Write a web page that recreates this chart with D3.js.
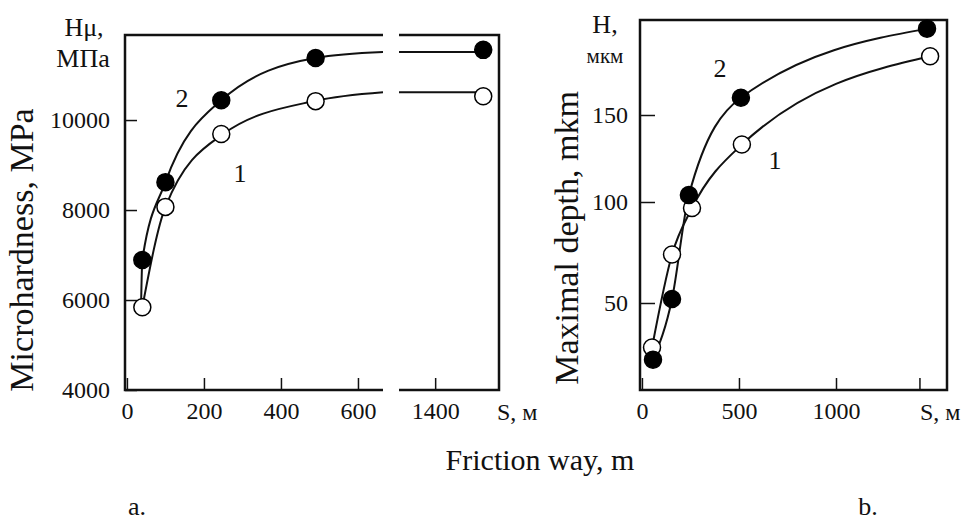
<!DOCTYPE html>
<html>
<head>
<meta charset="utf-8">
<script src="https://cdn.jsdelivr.net/npm/d3@7"></script>
<style>
  body { margin: 0; background: #fff; }
  text { font-family: "Liberation Serif", "DejaVu Serif", serif; fill: #111; }
</style>
</head>
<body>
<svg id="chart"></svg>
<script>
// panel a: microhardness vs friction way
const distA = [40, 100, 245, 490];
const hard2 = [6890, 8620, 10440, 11380];
const hard1 = [5840, 8070, 9690, 10420];
const distALong = 1525;
const hard2Long = 11560;
const hard1Long = 10530;
// smooth fitted curves
const fitA2 = [[37, 6000], [40, 6890], [100, 8620], [245, 10440], [490, 11380], [665, 11510]];
const fitA1 = [[40, 5840], [100, 8070], [250, 9690], [490, 10430], [665, 10620]];
const fitA2Flat = 11510;
const fitA1Flat = 10620;
const ticksAy = [4000, 6000, 8000, 10000];
const ticksAx = [0, 200, 400, 600];
const ticksAx2 = [1400];

// panel b: maximal depth vs friction way
const distB2 = [57, 155, 242, 510, 1469];
const depth2 = [22, 52, 104, 160, 200];
const distB1 = [52, 155, 258, 515, 1485];
const depth1 = [28, 74, 97, 133, 184];
const ticksBy = [50, 100, 150];
const ticksBx = [0, 500, 1000, 1430];
const tickLabelsBx = ["0", "500", "1000", ""];

const width = 965;
const height = 530;
const serif = '"Liberation Serif", "DejaVu Serif", serif';
const svg = d3.select("#chart").attr("width", width).attr("height", height);
svg.append("rect").attr("width", width).attr("height", height).attr("fill", "#fff");

const frameW = 2.5;

// ---- panel a ----
const xA1 = d3.scaleLinear().domain([-5, 665]).range([125, 383]);
const xA2 = d3.scaleLinear().domain([1306, 1566]).range([399, 499]);
const yA = d3.scaleLinear().domain([4000, 11890]).range([390, 35]);

const gA = svg.append("g");

function styleAxis(g) {
  g.attr("font-family", serif).attr("font-size", 24);
  g.select(".domain").remove();
  g.selectAll(".tick line").attr("stroke", "#111").attr("stroke-width", 1.5);
  g.selectAll(".tick text").attr("fill", "#111");
}

gA.append("g").attr("transform", "translate(125,0)")
  .call(d3.axisLeft(yA).tickValues(ticksAy).tickFormat(d3.format("d"))
    .tickSizeInner(-12).tickSizeOuter(0).tickPadding(15))
  .call(styleAxis);
gA.append("g").attr("transform", "translate(0,390)")
  .call(d3.axisBottom(xA1).tickValues(ticksAx).tickFormat(d3.format("d"))
    .tickSizeInner(-12).tickSizeOuter(0).tickPadding(12))
  .call(styleAxis);
gA.append("g").attr("transform", "translate(0,390)")
  .call(d3.axisBottom(xA2).tickValues(ticksAx2).tickFormat(d3.format("d"))
    .tickSizeInner(-12).tickSizeOuter(0).tickPadding(12))
  .call(styleAxis);

// frame with break
const frame = gA.append("g").attr("fill", "none").attr("stroke", "#111").attr("stroke-width", frameW);
frame.append("path").attr("d", `M${xA1.range()[1]},${yA.range()[1]}H${xA1.range()[0]}V${yA.range()[0]}H${xA1.range()[1]}`);
frame.append("path").attr("d", `M${xA2.range()[0]},${yA.range()[1]}H${xA2.range()[1]}V${yA.range()[0]}H${xA2.range()[0]}`);

const lineA = d3.line().x(d => xA1(d[0])).y(d => yA(d[1])).curve(d3.curveMonotoneX);
[fitA1, fitA2].forEach(f => {
  gA.append("path").attr("d", lineA(f)).attr("fill", "none").attr("stroke", "#111").attr("stroke-width", 2);
});
[[fitA1Flat, distALong], [fitA2Flat, distALong]].forEach(([v, x]) => {
  gA.append("line")
    .attr("x1", xA2.range()[0]).attr("x2", xA2(x))
    .attr("y1", yA(v)).attr("y2", yA(v))
    .attr("stroke", "#111").attr("stroke-width", 2);
});

function dots(g, xs, ys, xScale, yScale, filled) {
  g.append("g").selectAll("circle")
    .data(xs.map((x, i) => [x, ys[i]]))
    .enter().append("circle")
      .attr("cx", d => xScale(d[0]))
      .attr("cy", d => yScale(d[1]))
      .attr("r", 8.5)
      .attr("fill", filled ? "#000" : "#fff")
      .attr("stroke", "#000")
      .attr("stroke-width", 1.5);
}
dots(gA, distA, hard1, xA1, yA, false);
dots(gA, distA, hard2, xA1, yA, true);
dots(gA, [distALong], [hard1Long], xA2, yA, false);
dots(gA, [distALong], [hard2Long], xA2, yA, true);

gA.append("text").attr("x", 182).attr("y", 107).attr("text-anchor", "middle").attr("font-size", 26).text("2");
gA.append("text").attr("x", 240).attr("y", 182).attr("text-anchor", "middle").attr("font-size", 26).text("1");
gA.append("text").attr("x", 84).attr("y", 36).attr("text-anchor", "middle").attr("font-size", 26).text("Hμ,");
gA.append("text").attr("x", 83).attr("y", 67).attr("text-anchor", "middle").attr("font-size", 26).text("МПа");
gA.append("text").attr("x", 497).attr("y", 420).attr("font-size", 24).text("S, м");
gA.append("text").attr("transform", "translate(33,250) rotate(-90)")
  .attr("text-anchor", "middle").attr("font-size", 34).text("Microhardness, MPa");
gA.append("text").attr("x", 137).attr("y", 515).attr("text-anchor", "middle").attr("font-size", 26).text("a.");

// ---- panel b ----
const xB = d3.scaleLinear().domain([-10, 1572]).range([640, 947]);
const yB = d3.scaleLinear().domain([7, 50, 100, 150, 205]).range([390, 303, 202, 115, 20]);

const gB = svg.append("g");
gB.append("g").attr("transform", "translate(640,0)")
  .call(d3.axisLeft(yB).tickValues(ticksBy).tickSizeInner(-15).tickSizeOuter(0).tickPadding(12))
  .call(styleAxis);
gB.append("g").attr("transform", "translate(0,390)")
  .call(d3.axisBottom(xB).tickValues(ticksBx).tickFormat((d, i) => tickLabelsBx[i])
    .tickSizeInner(-12).tickSizeOuter(0).tickPadding(12))
  .call(styleAxis);

gB.append("rect")
  .attr("x", 640).attr("y", 20).attr("width", 947 - 640).attr("height", 390 - 20)
  .attr("fill", "none").attr("stroke", "#111").attr("stroke-width", frameW);

const lineB = d3.line().x(d => xB(d[0])).y(d => yB(d[1])).curve(d3.curveMonotoneX);
gB.append("path").attr("d", lineB(distB1.map((x, i) => [x, depth1[i]])))
  .attr("fill", "none").attr("stroke", "#111").attr("stroke-width", 2);
gB.append("path").attr("d", lineB(distB2.map((x, i) => [x, depth2[i]])))
  .attr("fill", "none").attr("stroke", "#111").attr("stroke-width", 2);
dots(gB, distB1, depth1, xB, yB, false);
dots(gB, distB2, depth2, xB, yB, true);

gB.append("text").attr("x", 720).attr("y", 77).attr("text-anchor", "middle").attr("font-size", 26).text("2");
gB.append("text").attr("x", 775).attr("y", 169).attr("text-anchor", "middle").attr("font-size", 26).text("1");
gB.append("text").attr("x", 605).attr("y", 33).attr("text-anchor", "middle").attr("font-size", 26).text("H,");
gB.append("text").attr("x", 605).attr("y", 63).attr("text-anchor", "middle").attr("font-size", 21).text("мкм");
gB.append("text").attr("x", 920).attr("y", 420).attr("font-size", 24).text("S, м");
gB.append("text").attr("transform", "translate(578,238) rotate(-90)")
  .attr("text-anchor", "middle").attr("font-size", 34).text("Maximal depth, mkm");
gB.append("text").attr("x", 868).attr("y", 515).attr("text-anchor", "middle").attr("font-size", 26).text("b.");

svg.append("text").attr("x", 540).attr("y", 470).attr("text-anchor", "middle").attr("font-size", 30).text("Friction way, m");
</script>
</body>
</html>
